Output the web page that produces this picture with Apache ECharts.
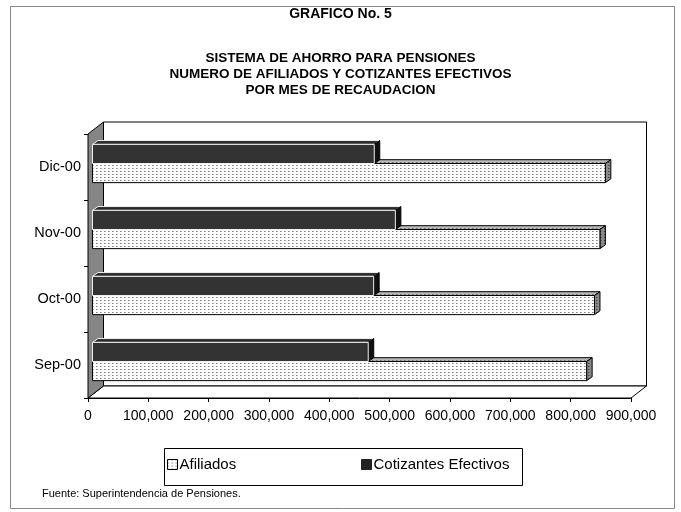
<!DOCTYPE html>
<html>
<head>
<meta charset="utf-8">
<script src="https://cdn.jsdelivr.net/npm/echarts@6/dist/echarts.min.js"></script>
<style>html,body{margin:0;padding:0;background:#fff;}#c{width:681px;height:512px;}</style>
</head>
<body>
<div id="c"></div>
<script>
const categories = ['Sep-00', 'Oct-00', 'Nov-00', 'Dic-00'];
const afiliados = [819000, 832000, 841000, 850000];
const cotizantes = [457000, 466000, 502000, 467000];
const xMin = 0, xMax = 900000, xStep = 100000;
const seriesNames = ['Afiliados', 'Cotizantes Efectivos'];
const titleMain = 'GRAFICO No. 5';
const titleSub = 'SISTEMA DE AHORRO PARA PENSIONES\nNUMERO DE AFILIADOS Y COTIZANTES EFECTIVOS\nPOR MES DE RECAUDACION';
const sourceText = 'Fuente: Superintendencia de Pensiones.';

const FONT = 'Liberation Sans, Arial, sans-serif';

function pat(bg, dot, dot2) {
  const c = document.createElement('canvas');
  c.width = 4; c.height = 3;
  const g = c.getContext('2d');
  g.fillStyle = bg; g.fillRect(0, 0, 4, 3);
  g.fillStyle = dot; g.fillRect(0, 0, 1, 1);
  g.fillStyle = dot2; g.fillRect(1, 0, 1, 1);
  return { image: c, repeat: 'repeat' };
}
const patFront = pat('#ffffff', '#808080', '#b8b8b8');
const patTop = pat('#b8b8b8', '#707070', '#909090');
const patSide = pat('#8a8a8a', '#444444', '#666666');
const patLegend = pat('#ffffff', '#808080', '#c0c0c0');

// 3D geometry (pixels)
const WALL_DX = 15.5, WALL_DY = -12;
const BAR_FX = 4.5, BAR_FY = -3.5, BAR_DX = 5.5, BAR_DY = -3.8;

function wallsRender(params, api) {
  const cs = params.coordSys;
  const x0 = cs.x, y0 = cs.y, w = cs.width, h = cs.height;
  const bx = x0 + WALL_DX, by = y0 + WALL_DY;
  return {
    type: 'group',
    children: [
      { type: 'rect', shape: { x: bx, y: by, width: w, height: h },
        style: { fill: '#fff', stroke: '#000', lineWidth: 1 } },
      { type: 'polygon', shape: { points: [[x0, y0 + h], [bx, by + h], [bx + w, by + h], [x0 + w, y0 + h]] },
        style: { fill: '#fff', stroke: '#000', lineWidth: 1 } },
      { type: 'polygon', shape: { points: [[x0, y0], [bx, by], [bx, by + h], [x0, y0 + h]] },
        style: { fill: '#858585', stroke: '#000', lineWidth: 1 } }
    ]
  };
}

function barRender(kind) {
  return function (params, api) {
    const val = api.value(0), cat = api.value(1);
    const p0 = api.coord([0, cat]);
    const p1 = api.coord([val, cat]);
    const band = api.size([0, 1])[1];
    const h = band * 0.29;
    let yT = (kind === 'cot' ? p0[1] - h : p0[1]) + BAR_FY;
    const xa = p0[0] + BAR_FX, xb = p1[0] + BAR_FX;
    const dx = BAR_DX, dy = BAR_DY;
    let sFront, sTop, sSide;
    if (kind === 'cot') {
      sFront = { fill: '#333333', stroke: '#f0f0f0', lineWidth: 1 };
      sTop = { fill: '#2b2b2b', stroke: '#f0f0f0', lineWidth: 1 };
      sSide = { fill: '#111111', stroke: '#000', lineWidth: 1 };
    } else {
      sFront = { fill: patFront, stroke: '#000', lineWidth: 1 };
      sTop = { fill: patTop, stroke: '#000', lineWidth: 1 };
      sSide = { fill: patSide, stroke: '#000', lineWidth: 1 };
    }
    return {
      type: 'group',
      children: [
        { type: 'polygon', shape: { points: [[xa, yT], [xa + dx, yT + dy], [xb + dx, yT + dy], [xb, yT]] }, style: sTop },
        { type: 'polygon', shape: { points: [[xb, yT], [xb + dx, yT + dy], [xb + dx, yT + h + dy], [xb, yT + h]] }, style: sSide },
        { type: 'rect', shape: { x: xa, y: yT, width: xb - xa, height: h }, style: sFront }
      ]
    };
  };
}

const chart = echarts.init(document.getElementById('c'), null, { renderer: 'canvas' });
chart.setOption({
  animation: false,
  backgroundColor: '#fff',
  textStyle: { fontFamily: FONT },
  title: [
    { text: titleMain, left: 'center', top: 2,
      textStyle: { fontFamily: FONT, fontSize: 14, fontWeight: 'bold', color: '#000' } },
    { text: titleSub, left: 'center', top: 45,
      textStyle: { fontFamily: FONT, fontSize: 13.5, fontWeight: 'bold', color: '#000', lineHeight: 16 } }
  ],
  legend: [
    { data: [{ name: seriesNames[0], itemStyle: { color: patLegend, borderColor: '#000', borderWidth: 1 } }],
      left: 167, top: 457, itemWidth: 10, itemHeight: 10, itemGap: 3, padding: 0, icon: 'rect',
      textStyle: { fontFamily: FONT, fontSize: 15, color: '#000', padding: [0, 0, 0, -3] }, selectedMode: false },
    { data: [{ name: seriesNames[1], itemStyle: { color: '#222', borderColor: '#222', borderWidth: 1 } }],
      left: 361, top: 457, itemWidth: 10, itemHeight: 10, itemGap: 3, padding: 0, icon: 'rect',
      textStyle: { fontFamily: FONT, fontSize: 15, color: '#000', padding: [0, 0, 0, -3] }, selectedMode: false }
  ],
  grid: { left: 88, right: 50, top: 134, bottom: 114, containLabel: false },
  xAxis: {
    type: 'value', min: xMin, max: xMax, interval: xStep,
    axisLine: { show: true, lineStyle: { color: '#000', width: 1 } },
    axisTick: { show: true, length: 4, lineStyle: { color: '#000' } },
    splitLine: { show: false },
    axisLabel: { fontFamily: FONT, fontSize: 14, color: '#000', margin: 11,
      formatter: v => v.toLocaleString('en-US') }
  },
  yAxis: {
    type: 'category', data: categories,
    axisLine: { show: true, lineStyle: { color: '#000' } },
    axisTick: { show: true, length: 4, lineStyle: { color: '#000' } },
    axisLabel: { fontFamily: FONT, fontSize: 14.5, color: '#000', margin: 7, padding: [4, 0, 0, 0] }
  },
  series: [
    { type: 'custom', name: '_walls', renderItem: wallsRender, data: [[0, 0]], encode: { x: 0, y: 1 }, z: 1, silent: true, clip: false },
    { type: 'custom', name: seriesNames[0], renderItem: barRender('afi'),
      data: afiliados.map((v, i) => [v, i]), encode: { x: 0, y: 1 }, z: 3, clip: false,
      itemStyle: { color: patLegend } },
    { type: 'custom', name: seriesNames[1], renderItem: barRender('cot'),
      data: cotizantes.map((v, i) => [v, i]), encode: { x: 0, y: 1 }, z: 4, clip: false,
      itemStyle: { color: '#222' } }
  ],
  graphic: [
    { type: 'rect', left: 8, top: 4, shape: { width: 664, height: 502 }, style: { fill: null, stroke: '#888', lineWidth: 1 }, z: -10, silent: true },
    { type: 'rect', left: 162, top: 446, shape: { width: 358, height: 37 }, style: { fill: null, stroke: '#000', lineWidth: 1 }, silent: true },
    { type: 'text', left: 42, top: 488, style: { text: sourceText, font: '11px ' + FONT, fill: '#000' }, silent: true }
  ]
});
</script>
</body>
</html>
